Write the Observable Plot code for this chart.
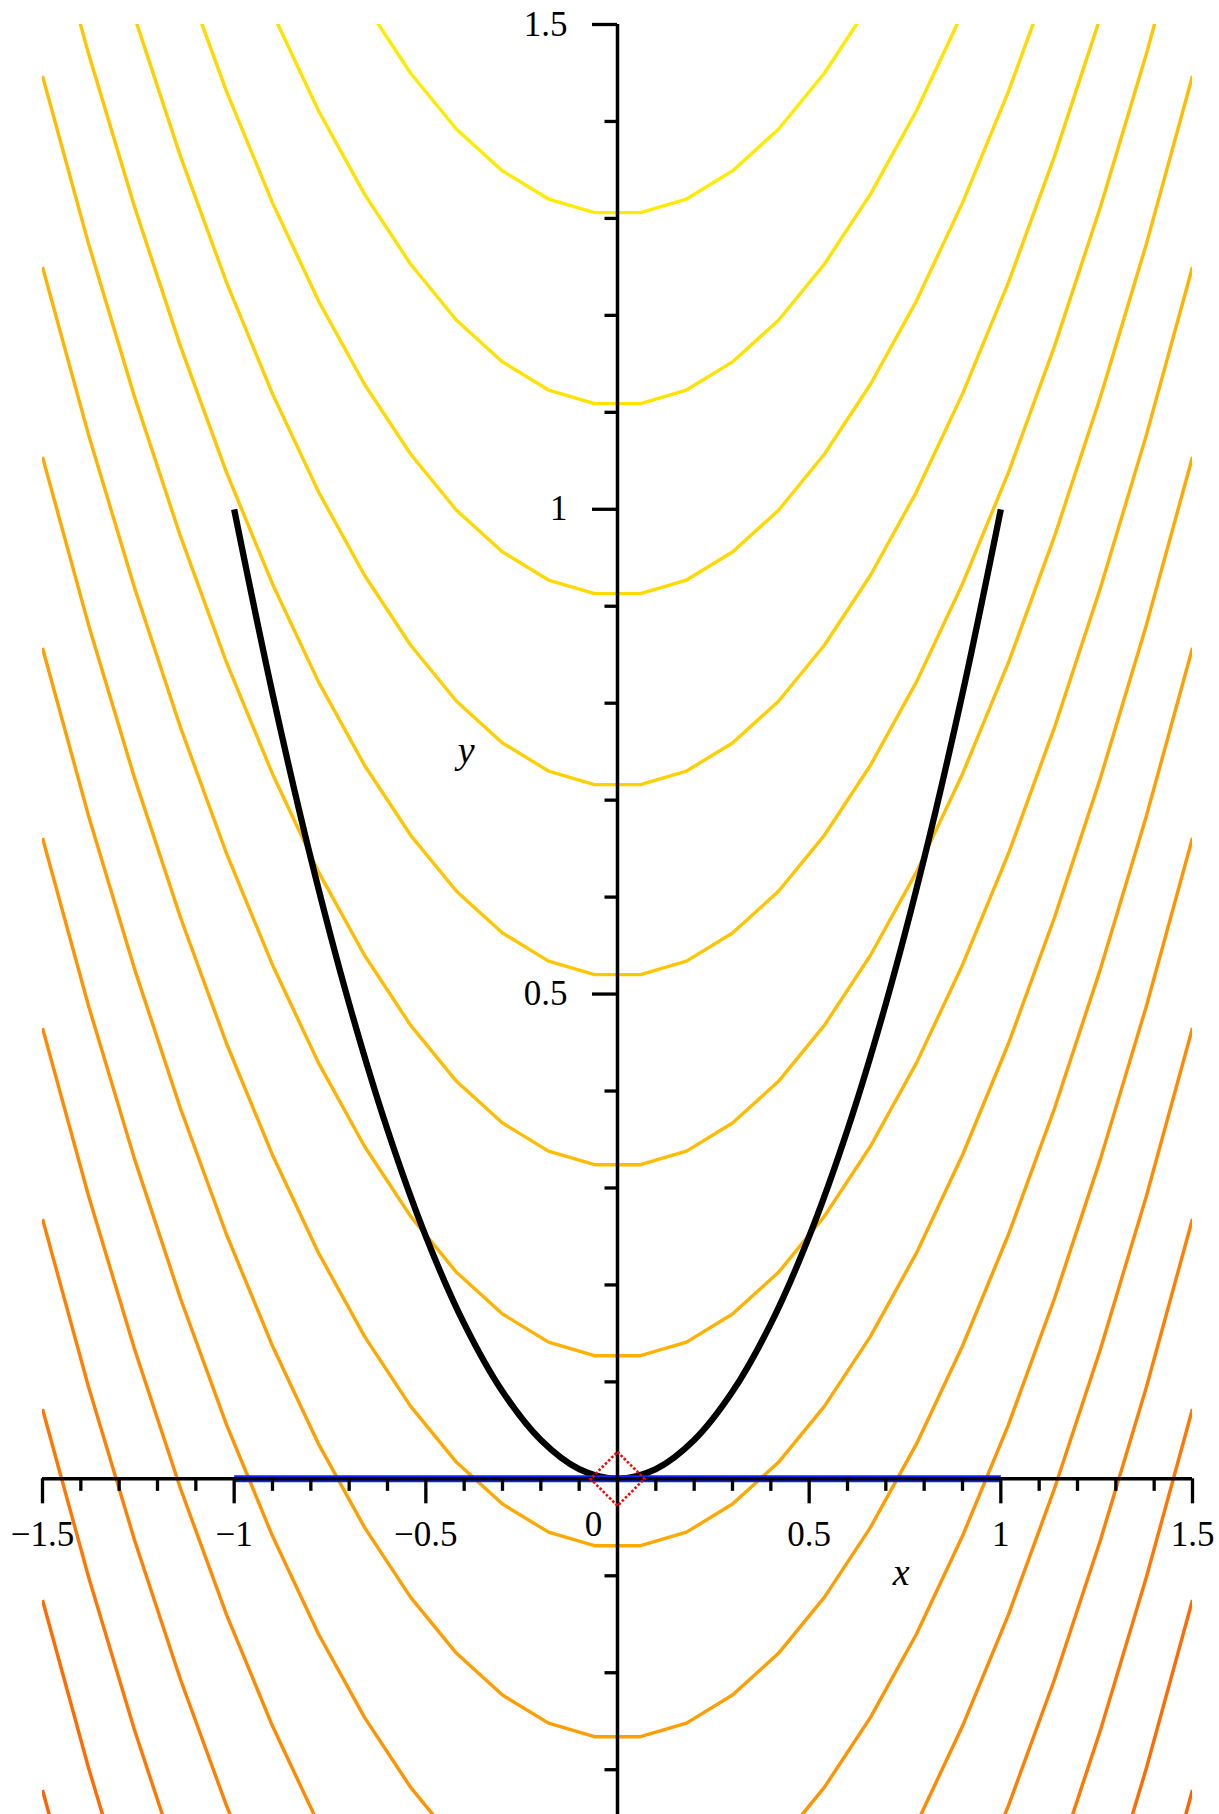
<!DOCTYPE html>
<html>
<head>
<meta charset="utf-8">
<script src="https://cdn.jsdelivr.net/npm/d3@7"></script>
<script src="https://cdn.jsdelivr.net/npm/@observablehq/plot@0.6"></script>
<style>
html, body { margin: 0; padding: 0; background: #fff; }
#chart svg { display: block; }
</style>
</head>
<body>
<div id="chart"></div>
<script>
// ---- data ----
// x positions of the contour grid nodes
const gridX = [-1.5, -1.38, -1.26, -1.14, -1.02, -0.9, -0.78, -0.66, -0.54, -0.42, -0.3, -0.18, -0.06,
               0.06, 0.18, 0.3, 0.42, 0.54, 0.66, 0.78, 0.9, 1.02, 1.14, 1.26, 1.38, 1.5];
// rise of every contour above its lowest point at each grid node
const profile = [1.125, 0.952, 0.794, 0.650, 0.520, 0.405, 0.304, 0.218, 0.146, 0.088, 0.045, 0.016, 0.002,
                 0.002, 0.016, 0.045, 0.088, 0.146, 0.218, 0.304, 0.405, 0.520, 0.650, 0.794, 0.952, 1.125];
// contour levels (height of each contour at its lowest point)
const levels = [1.304, 1.107, 0.911, 0.714, 0.518, 0.322, 0.125, -0.071, -0.268, -0.464, -0.660, -0.857, -1.053, -1.250, -1.446];
const levelColors = ["#FFEB00", "#FFE200", "#FFD900", "#FFD000", "#FFC600", "#FFBC00", "#FFB200", "#FFA800",
                     "#FF9E00", "#FF9400", "#FF8A00", "#FF8000", "#FF7600", "#FF6B00", "#FF6100"];
// black curve
const parabolaX = [-1, -0.9, -0.8, -0.7, -0.6, -0.5, -0.4, -0.3, -0.2, -0.1, 0, 0.1, 0.2, 0.3, 0.4, 0.5, 0.6, 0.7, 0.8, 0.9, 1];
const parabolaY = [1, 0.81, 0.64, 0.49, 0.36, 0.25, 0.16, 0.09, 0.04, 0.01, 0, 0.01, 0.04, 0.09, 0.16, 0.25, 0.36, 0.49, 0.64, 0.81, 1];
// blue segment
const segmentX = [-1, 1];
const segmentY = [0, 0];
// red point
const pointX = [0];
const pointY = [0];
// axes
const xDomain = [-1.5, 1.5];
const yDomain = [-0.3462, 1.5];
const xMajorTicks = [-1.5, -1, -0.5, 0.5, 1, 1.5];
const xTickLabels = ["\u22121.5", "\u22121", "\u22120.5", "0.5", "1", "1.5"];
const xMinorTicks = [-1.4, -1.3, -1.2, -1.1, -0.9, -0.8, -0.7, -0.6, -0.4, -0.3, -0.2, -0.1,
                     0.1, 0.2, 0.3, 0.4, 0.6, 0.7, 0.8, 0.9, 1.1, 1.2, 1.3, 1.4];
const yMajorTicks = [0.5, 1, 1.5];
const yTickLabels = ["0.5", "1", "1.5"];
const yMinorTicks = [-0.3, -0.2, -0.1, 0.1, 0.2, 0.3, 0.4, 0.6, 0.7, 0.8, 0.9, 1.1, 1.2, 1.3, 1.4];

// ---- build tables ----
const contourData = levels.flatMap((c, k) => gridX.map((x, i) => ({x, y: c + profile[i], k})));
const parabola = parabolaX.map((x, i) => ({x, y: parabolaY[i]}));
const segment = segmentX.map((x, i) => ({x, y: segmentY[i]}));
const point = pointX.map((x, i) => ({x, y: pointY[i]}));

const font = "Liberation Serif";
const zero = () => 0;

const marks = [
  ...levels.map((c, k) => Plot.line(contourData.filter(d => d.k === k), {
    x: "x", y: "y", stroke: levelColors[k], strokeWidth: 3.4, strokeLinejoin: "miter", strokeLinecap: "butt", clip: true
  })),
  Plot.line(parabola, {x: "x", y: "y", stroke: "black", strokeWidth: 6.3, curve: "catmull-rom", strokeLinecap: "butt"}),
  Plot.line(segment, {x: "x", y: "y", stroke: "#0028FF", strokeWidth: 7, strokeLinecap: "butt"}),
  // axis lines
  Plot.ruleY([0], {y: d => d, x1: () => xDomain[0], x2: () => xDomain[1], stroke: "black", strokeWidth: 3.5}),
  Plot.ruleX([0], {x: d => d, y1: () => yDomain[0], y2: () => yDomain[1], stroke: "black", strokeWidth: 3.5}),
  // x ticks
  Plot.ruleX(xMajorTicks, {x: d => d, y1: zero, y2: zero, insetTop: 0, insetBottom: -25, stroke: "black", strokeWidth: 3.3}),
  Plot.ruleX(xMinorTicks, {x: d => d, y1: zero, y2: zero, insetTop: 0, insetBottom: -12.5, stroke: "black", strokeWidth: 3.3}),
  // y ticks
  Plot.ruleY(yMajorTicks, {y: d => d, x1: zero, x2: zero, insetLeft: -25, insetRight: 0, stroke: "black", strokeWidth: 3.3}),
  Plot.ruleY(yMinorTicks, {y: d => d, x1: zero, x2: zero, insetLeft: -12.5, insetRight: 0, stroke: "black", strokeWidth: 3.3}),
  // tick labels
  Plot.text(xMajorTicks, {x: d => d, y: zero, text: (d, i) => xTickLabels[i], dy: 56, fontSize: 35, fontFamily: font, fill: "black"}),
  Plot.text(["0"], {x: zero, y: zero, text: d => d, dx: -24, dy: 46, fontSize: 35, fontFamily: font, fill: "black"}),
  Plot.text(yMajorTicks, {x: zero, y: d => d, text: (d, i) => yTickLabels[i], dx: -50, textAnchor: "end", fontSize: 35, fontFamily: font, fill: "black"}),
  // axis titles
  Plot.text(["x"], {x: () => 0.74, y: zero, text: d => d, dy: 94, fontSize: 38, fontStyle: "italic", fontFamily: font, fill: "black"}),
  Plot.text(["y"], {x: () => -0.395, y: () => 0.751, text: d => d, fontSize: 38, fontStyle: "italic", fontFamily: font, fill: "black"}),
  // red point
  Plot.dot(point, {x: "x", y: "y", symbol: "diamond2", r: 24.3, stroke: "#FF0000", fill: "none", strokeWidth: 2.6, strokeDasharray: "2.5,2"})
];

const chart = Plot.plot({
  width: 1219,
  height: 1814,
  marginLeft: 42,
  marginRight: 27,
  marginTop: 24,
  marginBottom: 0,
  x: {domain: xDomain, axis: null},
  y: {domain: yDomain, axis: null},
  style: {background: "white"},
  marks
});
document.getElementById("chart").appendChild(chart);
</script>
</body>
</html>
